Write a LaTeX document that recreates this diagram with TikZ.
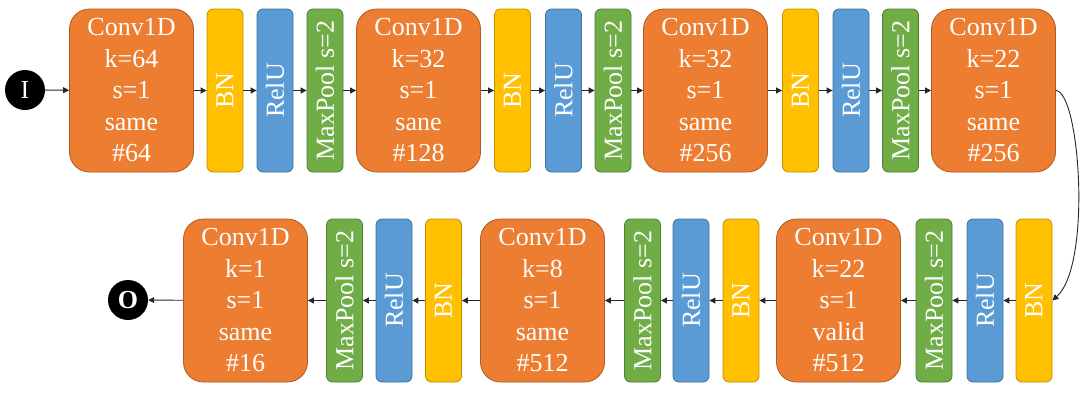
\documentclass[tikz,border=0pt]{standalone}
\usepackage{fontspec}
\setmainfont{LiberationSerif}[Extension=.ttf, UprightFont=*-Regular, BoldFont=*-Bold]
\usetikzlibrary{arrows.meta}
\definecolor{convfill}{HTML}{ED7D31}
\definecolor{convdraw}{HTML}{AE5A21}
\definecolor{bnfill}{HTML}{FFC000}
\definecolor{bndraw}{HTML}{BF9000}
\definecolor{relufill}{HTML}{5B9BD5}
\definecolor{reludraw}{HTML}{41719C}
\definecolor{poolfill}{HTML}{70AD47}
\definecolor{pooldraw}{HTML}{507E32}
\tikzset{
  bigfont/.style={font=\rmfamily\fontsize{26}{31.5}\selectfont},
  convbox/.style={bigfont, draw=convdraw, fill=convfill, line width=0.8pt, rounded corners=20pt,
    minimum width=124pt, minimum height=163pt, inner sep=0pt, align=center, text=white},
  vbox/.style={line width=0.8pt, rounded corners=6pt, minimum width=36pt, minimum height=163pt, inner sep=0pt},
  bnbox/.style={vbox, draw=bndraw, fill=bnfill},
  relubox/.style={vbox, draw=reludraw, fill=relufill},
  poolbox/.style={vbox, draw=pooldraw, fill=poolfill},
  vtext/.style={bigfont, rotate=90, text=white, inner sep=0pt},
  term/.style={circle, fill=black, minimum size=40pt, inner sep=0pt, text=white, bigfont},
  conn/.style={draw=black!85, line width=0.9pt, -{Triangle[length=6pt,width=6pt]}},
}
\begin{document}
\begin{tikzpicture}[x=1pt,y=-1pt]
\useasboundingbox (0,0) rectangle (1090,400);
% top row
\node[term] (in) at (25,90) {I};
\node[convbox] (c1) at (131.5,90.5) {Conv1D\\k=64\\s=1\\same\\\#64};
\node[bnbox] (b1) at (225,90.5) {};
\node[vtext] (b1t) at (b1) {BN};
\node[relubox] (r1) at (275,90.5) {};
\node[vtext] (r1t) at (r1) {RelU};
\node[poolbox] (m1) at (325,90.5) {};
\node[vtext] (m1t) at (m1) {MaxPool s=2};
\node[convbox] (c2) at (418.5,90.5) {Conv1D\\k=32\\s=1\\sane\\\#128};
\node[bnbox] (b2) at (512.5,90.5) {};
\node[vtext] (b2t) at (b2) {BN};
\node[relubox] (r2) at (563.5,90.5) {};
\node[vtext] (r2t) at (r2) {RelU};
\node[poolbox] (m2) at (613,90.5) {};
\node[vtext] (m2t) at (m2) {MaxPool s=2};
\node[convbox] (c3) at (705.5,90.5) {Conv1D\\k=32\\s=1\\same\\\#256};
\node[bnbox] (b3) at (800.5,90.5) {};
\node[vtext] (b3t) at (b3) {BN};
\node[relubox] (r3) at (851,90.5) {};
\node[vtext] (r3t) at (r3) {RelU};
\node[poolbox] (m3) at (900.5,90.5) {};
\node[vtext] (m3t) at (m3) {MaxPool s=2};
\node[convbox] (c4) at (993.5,90.5) {Conv1D\\k=22\\s=1\\same\\\#256};
% bottom row
\node[bnbox] (b4) at (1034,300.5) {};
\node[vtext] (b4t) at (b4) {BN};
\node[relubox] (r4) at (985,300.5) {};
\node[vtext] (r4t) at (r4) {RelU};
\node[poolbox] (m4) at (934,300.5) {};
\node[vtext] (m4t) at (m4) {MaxPool s=2};
\node[convbox] (c5) at (838.5,300.5) {Conv1D\\k=22\\s=1\\valid\\\#512};
\node[bnbox] (b5) at (741,300.5) {};
\node[vtext] (b5t) at (b5) {BN};
\node[relubox] (r5) at (691,300.5) {};
\node[vtext] (r5t) at (r5) {RelU};
\node[poolbox] (m5) at (642.5,300.5) {};
\node[vtext] (m5t) at (m5) {MaxPool s=2};
\node[convbox] (c6) at (542.5,300.5) {Conv1D\\k=8\\s=1\\same\\\#512};
\node[bnbox] (b6) at (443.5,300.5) {};
\node[vtext] (b6t) at (b6) {BN};
\node[relubox] (r6) at (394,300.5) {};
\node[vtext] (r6t) at (r6) {RelU};
\node[poolbox] (m6) at (344.5,300.5) {};
\node[vtext] (m6t) at (m6) {MaxPool s=2};
\node[convbox] (c7) at (245.5,300.5) {Conv1D\\k=1\\s=1\\same\\\#16};
\node[term, font=\rmfamily\fontsize{26}{31.5}\selectfont\bfseries] (out) at (128,300) {O};
% connectors
\foreach \a/\b in {in/c1,c1/b1,b1/r1,r1/m1,m1/c2,c2/b2,b2/r2,r2/m2,m2/c3,c3/b3,b3/r3,r3/m3,m3/c4,
  b4/r4,r4/m4,m4/c5,c5/b5,b5/r5,r5/m5,m5/c6,c6/b6,b6/r6,r6/m6,m6/c7,c7/out}
  \draw[conn] (\a) -- (\b);
\draw[conn] (c4.east) .. controls (1080,92) and (1092,265) .. (b4.east);
\end{tikzpicture}
\end{document}
